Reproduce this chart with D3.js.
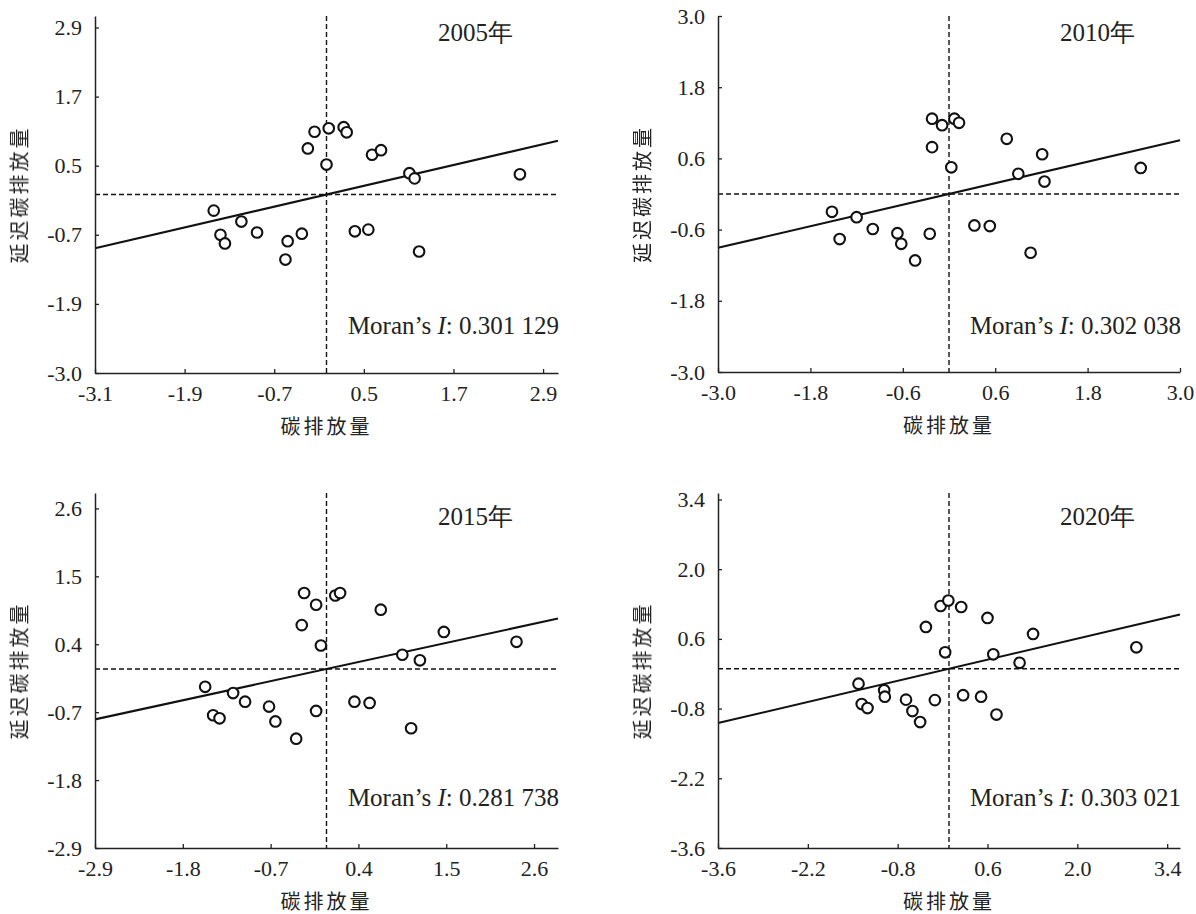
<!DOCTYPE html>
<html>
<head>
<meta charset="utf-8">
<script src="https://cdn.jsdelivr.net/npm/d3@7"></script>
<style>
  body { margin: 0; background: #fff; }
  svg { display: block; }
</style>
</head>
<body>
<div id="chart"></div>
<script>
// panel titles and Moran's I
const years = ["2005年", "2010年", "2015年", "2020年"]
const moranI = [0.301129, 0.302038, 0.281738, 0.303021]
const moranText = ["0.301 129", "0.302 038", "0.281 738", "0.303 021"]

// axis domains
const xDomains = [[-3.1, 3.1], [-3.0, 3.0], [-2.9, 2.9], [-3.6, 3.6]]
const yDomains = [[-3.1, 3.1], [-3.0, 3.0], [-2.9, 2.85], [-3.6, 3.53]]

// tick values and labels
const xTicks = [
  [-3.1, -1.9, -0.7, 0.5, 1.7, 2.9],
  [-3.0, -1.8, -0.6, 0.6, 1.8, 3.0],
  [-2.9, -1.8, -0.7, 0.4, 1.5, 2.6],
  [-3.6, -2.2, -0.8, 0.6, 2.0, 3.4]
]
const xTickLabels = [
  ["-3.1", "-1.9", "-0.7", "0.5", "1.7", "2.9"],
  ["-3.0", "-1.8", "-0.6", "0.6", "1.8", "3.0"],
  ["-2.9", "-1.8", "-0.7", "0.4", "1.5", "2.6"],
  ["-3.6", "-2.2", "-0.8", "0.6", "2.0", "3.4"]
]
const yTicks = [
  [-3.1, -1.9, -0.7, 0.5, 1.7, 2.9],
  [-3.0, -1.8, -0.6, 0.6, 1.8, 3.0],
  [-2.9, -1.8, -0.7, 0.4, 1.5, 2.6],
  [-3.6, -2.2, -0.8, 0.6, 2.0, 3.4]
]
const yTickLabels = [
  ["-3.0", "-1.9", "-0.7", "0.5", "1.7", "2.9"],
  ["-3.0", "-1.8", "-0.6", "0.6", "1.8", "3.0"],
  ["-2.9", "-1.8", "-0.7", "0.4", "1.5", "2.6"],
  ["-3.6", "-2.2", "-0.8", "0.6", "2.0", "3.4"]
]

// standardised carbon emissions (x) and spatial lag (y)
const x2005 = [-1.51, -1.42, -1.36, -1.14, -0.93, -0.55, -0.52, -0.33, -0.25, -0.16, 0.00, 0.03, 0.23, 0.27, 0.38, 0.56, 0.61, 0.73, 1.11, 1.18, 1.24, 2.59]
const y2005 = [-0.28, -0.70, -0.85, -0.47, -0.66, -1.13, -0.81, -0.68, 0.80, 1.09, 0.52, 1.15, 1.17, 1.08, -0.64, -0.61, 0.69, 0.77, 0.37, 0.28, -0.99, 0.35]

const x2010 = [-1.52, -1.42, -1.20, -0.99, -0.67, -0.62, -0.44, -0.25, -0.22, -0.22, -0.09, 0.03, 0.07, 0.13, 0.33, 0.53, 0.75, 0.90, 1.06, 1.21, 1.24, 2.49]
const y2010 = [-0.30, -0.76, -0.39, -0.59, -0.66, -0.84, -1.12, -0.67, 0.79, 1.27, 1.16, 0.45, 1.27, 1.20, -0.53, -0.54, 0.93, 0.34, -0.99, 0.67, 0.21, 0.44]

const x2015 = [-1.52, -1.42, -1.34, -1.17, -1.02, -0.72, -0.64, -0.38, -0.31, -0.28, -0.13, -0.13, -0.07, 0.11, 0.17, 0.35, 0.54, 0.68, 0.95, 1.06, 1.17, 1.47, 2.38]
const y2015 = [-0.29, -0.75, -0.80, -0.39, -0.53, -0.61, -0.85, -1.13, 0.71, 1.23, 1.04, -0.68, 0.38, 1.19, 1.23, -0.53, -0.55, 0.96, 0.23, -0.96, 0.14, 0.60, 0.44]

const x2020 = [-1.41, -1.36, -1.27, -1.01, -1.00, -0.67, -0.57, -0.45, -0.36, -0.22, -0.13, -0.06, -0.01, 0.19, 0.22, 0.50, 0.60, 0.69, 0.74, 1.10, 1.31, 2.92]
const y2020 = [-0.30, -0.71, -0.79, -0.43, -0.56, -0.62, -0.85, -1.07, 0.84, -0.63, 1.26, 0.33, 1.37, 1.24, -0.53, -0.56, 1.02, 0.29, -0.92, 0.12, 0.70, 0.43]

const xValues = [x2005, x2010, x2015, x2020]
const yValues = [y2005, y2010, y2015, y2020]

const xTitle = "碳排放量"
const yTitle = "延迟碳排放量"

// panel frames (pixels)
const frames = [
  {left: 95, right: 558, top: 16, bottom: 373, yearY: 41, moranY: 334},
  {left: 718, right: 1180, top: 16, bottom: 372, yearY: 41, moranY: 334},
  {left: 95, right: 558, top: 493, bottom: 848, yearY: 525, moranY: 806},
  {left: 718, right: 1180, top: 493, bottom: 848, yearY: 525, moranY: 806}
]

const serif = "'Liberation Serif', 'Times New Roman', serif"
const cjk = "'Noto Sans CJK SC', sans-serif"

const svg = d3.select('#chart')
  .append('svg')
  .attr('width', 1196)
  .attr('height', 914)

// plain filter so the rotated titles get grayscale antialiasing
svg.append('defs').append('filter')
  .attr('id', 'flat')
  .append('feOffset').attr('dx', 0).attr('dy', 0)

frames.forEach(function(f, i) {
  const xScale = d3.scaleLinear().domain(xDomains[i]).range([f.left, f.right])
  const yScale = d3.scaleLinear().domain(yDomains[i]).range([f.bottom, f.top])
  const g = svg.append('g')

  // dashed zero lines
  g.append('line')
    .attr('x1', xScale(0)).attr('x2', xScale(0))
    .attr('y1', f.top).attr('y2', f.bottom)
    .attr('stroke', '#111').attr('stroke-width', 1.4)
    .attr('stroke-dasharray', '5,3')
  g.append('line')
    .attr('x1', f.left).attr('x2', f.right)
    .attr('y1', yScale(0)).attr('y2', yScale(0))
    .attr('stroke', '#111').attr('stroke-width', 1.4)
    .attr('stroke-dasharray', '5,3')

  // regression line, slope = Moran's I
  const ends = xDomains[i].map(function(v) { return [v, v * moranI[i]] })
  g.append('path')
    .datum(ends)
    .attr('d', d3.line().x(function(d) { return xScale(d[0]) }).y(function(d) { return yScale(d[1]) }))
    .attr('stroke', '#111').attr('stroke-width', 2.1).attr('fill', 'none')

  // axes
  const xAxis = d3.axisBottom(xScale)
    .tickValues(xTicks[i])
    .tickFormat(function(d, k) { return xTickLabels[i][k] })
    .tickSizeInner(-4).tickSizeOuter(0).tickPadding(12)
  const gx = g.append('g')
    .attr('transform', 'translate(0,' + f.bottom + ')')
    .call(xAxis)
  const yAxis = d3.axisLeft(yScale)
    .tickValues(yTicks[i])
    .tickFormat(function(d, k) { return yTickLabels[i][k] })
    .tickSizeInner(-4).tickSizeOuter(0).tickPadding(13)
  const gy = g.append('g')
    .attr('transform', 'translate(' + f.left + ',0)')
    .call(yAxis)
  ;[gx, gy].forEach(function(a) {
    a.select('.domain').attr('stroke', '#222').attr('stroke-width', 1.5)
    a.selectAll('.tick line').attr('stroke', '#222').attr('stroke-width', 1.3)
    a.selectAll('.tick text')
      .attr('fill', '#222')
      .style('font-family', serif)
      .style('font-size', '22px')
  })

  // points
  g.selectAll('circle')
    .data(xValues[i].map(function(v, k) { return [v, yValues[i][k]] }))
    .enter()
    .append('circle')
    .attr('cx', function(d) { return xScale(d[0]) })
    .attr('cy', function(d) { return yScale(d[1]) })
    .attr('r', 5.3)
    .attr('fill', '#fff')
    .attr('stroke', '#111')
    .attr('stroke-width', 2.1)

  // year label
  g.append('text')
    .attr('x', f.right - 45)
    .attr('y', f.yearY)
    .attr('text-anchor', 'end')
    .style('font-family', serif)
    .style('font-size', '25px')
    .attr('fill', '#222')
    .text(years[i])

  // Moran's I label
  const mt = g.append('text')
    .attr('x', f.right + 1)
    .attr('y', f.moranY)
    .attr('text-anchor', 'end')
    .style('font-family', serif)
    .style('font-size', '25px')
    .attr('fill', '#222')
  mt.append('tspan').text('Moran\u2019s ')
  mt.append('tspan').style('font-style', 'italic').text('I')
  mt.append('tspan').text(': ' + moranText[i])

  // axis titles
  g.append('text')
    .attr('x', (f.left + f.right) / 2)
    .attr('y', f.bottom + 61)
    .attr('text-anchor', 'middle')
    .style('font-family', cjk)
    .style('font-size', '20px')
    .style('letter-spacing', '3px')
    .attr('fill', '#222')
    .text(xTitle)
  g.append('text')
    .attr('transform', 'translate(' + (f.left - 68) + ',' + ((f.top + f.bottom) / 2) + ') rotate(-90)')
    .attr('text-anchor', 'middle')
    .attr('filter', 'url(#flat)')
    .style('font-family', cjk)
    .style('font-size', '20px')
    .style('letter-spacing', '3px')
    .attr('fill', '#222')
    .text(yTitle)
})
</script>
</body>
</html>
